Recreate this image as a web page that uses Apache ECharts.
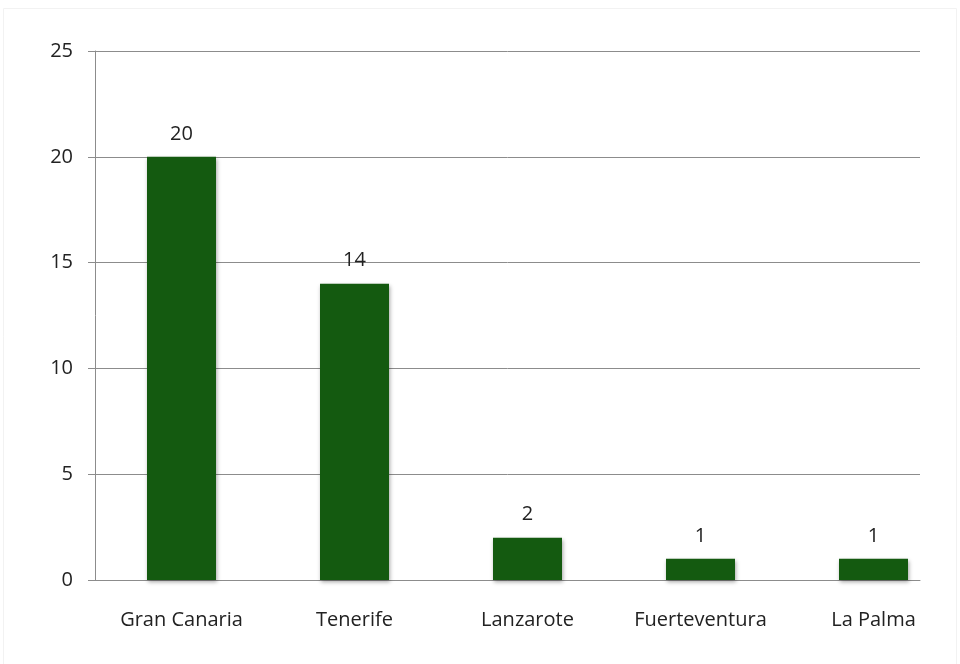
<!DOCTYPE html>
<html>
<head>
<meta charset="utf-8">
<script src="https://cdn.jsdelivr.net/npm/echarts@6/dist/echarts.min.js"></script>
<style>
  html, body { margin: 0; padding: 0; background: #fff; }
  #chart { width: 960px; height: 664px; }
</style>
</head>
<body>
<div id="chart"></div>
<script>
// Islands and their counts
const categories = ['Gran Canaria', 'Tenerife', 'Lanzarote', 'Fuerteventura', 'La Palma'];
const values = [20, 14, 2, 1, 1];
const yTicks = [0, 5, 10, 15, 20, 25];

const FONT = '"Open Sans", "Liberation Sans", sans-serif';
const AXIS_GRAY = '#8c8c8c';
const yMin = yTicks[0];
const yMax = yTicks[yTicks.length - 1];

const chart = echarts.init(document.getElementById('chart'), null, { renderer: 'canvas' });

chart.setOption({
  animation: false,
  backgroundColor: '#ffffff',
  graphic: [{
    type: 'rect',
    shape: { x: 3.5, y: 8.5, width: 953, height: 660 },
    style: { fill: 'none', stroke: '#f2f2f2', lineWidth: 1 },
    silent: true
  }],
  // grid 0: frame with gridlines and axis lines; grid 1: wider band that holds the bars
  grid: [
    { left: 95, right: 40, top: 51, bottom: 84, containLabel: false },
    { left: 95, right: 0, top: 51, bottom: 84, containLabel: false }
  ],
  xAxis: [{
    gridIndex: 0,
    type: 'category',
    data: categories,
    axisLine: { show: true, lineStyle: { color: AXIS_GRAY, width: 1 } },
    axisTick: { show: false },
    axisLabel: { show: false },
    splitLine: { show: false }
  }, {
    gridIndex: 1,
    type: 'category',
    data: categories,
    axisLine: { show: false },
    axisTick: { show: false },
    axisLabel: { color: '#222', fontFamily: FONT, fontSize: 20, margin: 30 },
    splitLine: { show: false }
  }],
  yAxis: [{
    gridIndex: 0,
    type: 'value',
    min: yMin,
    max: yMax,
    interval: 5,
    axisLine: { show: true, lineStyle: { color: AXIS_GRAY, width: 1 } },
    axisTick: { show: true, length: 7, lineStyle: { color: AXIS_GRAY } },
    axisLabel: { color: '#222', fontFamily: FONT, fontSize: 20, margin: 22 },
    splitLine: { show: true, lineStyle: { color: AXIS_GRAY, width: 1 } }
  }, {
    gridIndex: 1,
    type: 'value',
    min: yMin,
    max: yMax,
    interval: 5,
    show: false
  }],
  series: [{
    type: 'bar',
    xAxisIndex: 1,
    yAxisIndex: 1,
    data: values,
    barWidth: 69,
    itemStyle: {
      color: '#145a10',
      shadowColor: 'rgba(0,0,0,0.35)',
      shadowBlur: 4,
      shadowOffsetX: 1,
      shadowOffsetY: 2
    },
    label: {
      show: true,
      position: 'top',
      distance: 13,
      color: '#222',
      fontFamily: FONT,
      fontSize: 20
    }
  }]
});
</script>
</body>
</html>
